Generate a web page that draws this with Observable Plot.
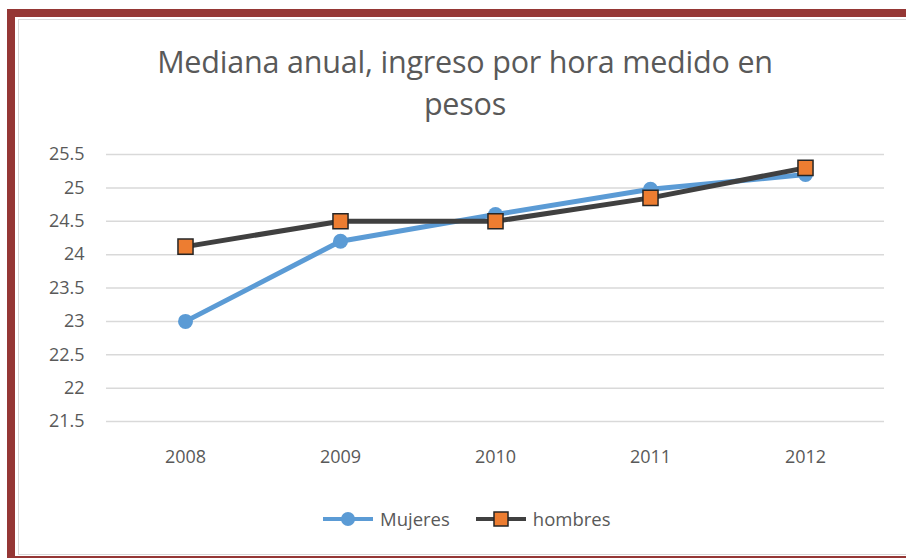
<!DOCTYPE html>
<html>
<head>
<meta charset="utf-8">
<script src="https://cdn.jsdelivr.net/npm/d3@7"></script>
<script src="https://cdn.jsdelivr.net/npm/@observablehq/plot@0.6"></script>
<style>
  html, body { margin: 0; padding: 0; background: #fff; }
  #wrap { position: relative; width: 906px; height: 558px; overflow: hidden; font-family: "Open Sans", sans-serif; }
  #chart { position: absolute; left: 0; top: 0; }
  .bar { position: absolute; background: #953735; }
  .inner { position: absolute; left: 18px; top: 19px; right: -2px; bottom: 3px; border: 1.5px solid #d9d9d9; }
  #title { position: absolute; left: 0; width: 930px; top: 40px; text-align: center; font-size: 30.5px; line-height: 42px; color: #595959; font-weight: 400; letter-spacing: -0.2px; }
  #legend { position: absolute; top: 506px; left: 321px; display: flex; align-items: center; font-size: 18.5px; color: #595959; }
  #legend .item { display: flex; align-items: center; margin-right: 24px; }
  #legend svg { margin-right: 5px; }
</style>
</head>
<body>
<div id="wrap">
  <div class="inner"></div>
  <div id="chart"></div>
  <div class="bar" style="left:7px; top:9px; width:906px; height:8px;"></div>
  <div class="bar" style="left:7px; top:9px; width:8px; height:560px;"></div>
  <div class="bar" style="left:7px; top:556px; width:906px; height:2px;"></div>
  <div id="title">Mediana anual, ingreso por hora medido en<br>pesos</div>
  <div id="legend">
    <div class="item">
      <svg width="54" height="20"><line x1="2" y1="10" x2="52" y2="10" stroke="#5B9BD5" stroke-width="4"/><circle cx="27" cy="10" r="7" fill="#5B9BD5"/></svg>
      <span>Mujeres</span>
    </div>
    <div class="item">
      <svg width="54" height="20"><line x1="2" y1="10" x2="52" y2="10" stroke="#404040" stroke-width="4"/><rect x="20" y="3" width="14" height="14" fill="#ED7D31" stroke="#262626" stroke-width="1.5"/></svg>
      <span>hombres</span>
    </div>
  </div>
</div>
<script>
const years = ["2008", "2009", "2010", "2011", "2012"];
const mujeres = [23.0, 24.2, 24.6, 24.98, 25.2];
const hombres = [24.12, 24.5, 24.5, 24.85, 25.3];
const yTicks = [21.5, 22, 22.5, 23, 23.5, 24, 24.5, 25, 25.5];

const dataM = years.map((y, i) => ({year: y, value: mujeres[i]}));
const dataH = years.map((y, i) => ({year: y, value: hombres[i]}));

const plot = Plot.plot({
  width: 906,
  height: 558,
  marginTop: 154,
  marginBottom: 137,
  marginLeft: 106,
  marginRight: 22,
  style: {fontFamily: "'Open Sans', sans-serif", fontSize: "18px", color: "#595959", background: "transparent"},
  x: {type: "point", domain: years, padding: 0.5, label: null},
  y: {domain: [21.5, 25.5], ticks: yTicks, label: null},
  marks: [
    Plot.ruleY(yTicks, {stroke: "#d9d9d9", strokeWidth: 1.5}),
    Plot.axisY({ticks: yTicks, tickSize: 0, tickPadding: 22, tickFormat: d => String(d), fill: "#595959", label: null}),
    Plot.axisX({tickSize: 0, tickPadding: 29, fill: "#595959", label: null}),
    Plot.line(dataM, {x: "year", y: "value", stroke: "#5B9BD5", strokeWidth: 5, strokeLinecap: "round", strokeLinejoin: "round"}),
    Plot.dot(dataM, {x: "year", y: "value", r: 7.5, fill: "#5B9BD5", stroke: "none"}),
    Plot.line(dataH, {x: "year", y: "value", stroke: "#404040", strokeWidth: 5, strokeLinecap: "round", strokeLinejoin: "round"}),
    Plot.dot(dataH, {x: "year", y: "value", symbol: "square", r: 8.5, fill: "#ED7D31", stroke: "#262626", strokeWidth: 1.5})
  ]
});
document.getElementById("chart").appendChild(plot);
</script>
</body>
</html>
